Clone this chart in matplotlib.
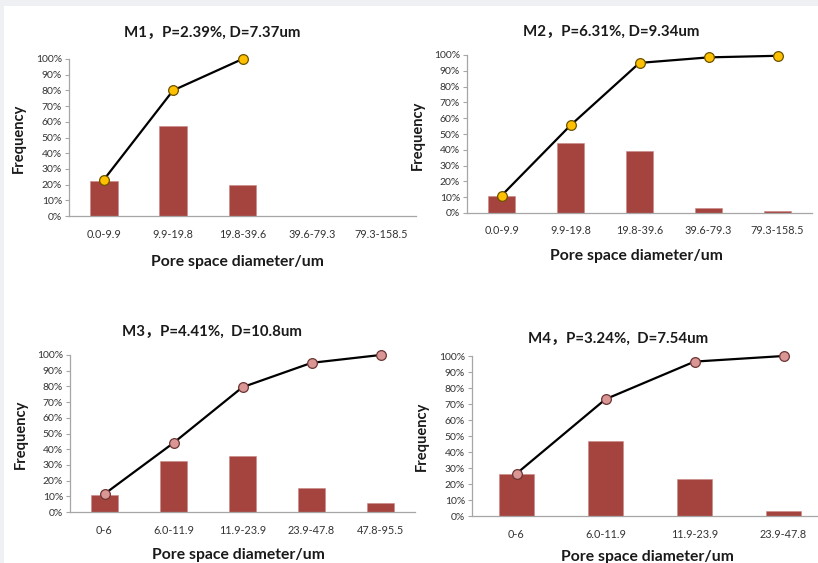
import numpy as np
import matplotlib
matplotlib.use("Agg")
from matplotlib import pyplot as plt
from matplotlib.patches import Rectangle
from matplotlib.ticker import PercentFormatter

plt.rcParams["font.family"] = ["Lato", "Noto Sans CJK SC", "DejaVu Sans"]

cats_m12 = ["0.0-9.9", "9.9-19.8", "19.8-39.6", "39.6-79.3", "79.3-158.5"]
cats_m3 = ["0-6", "6.0-11.9", "11.9-23.9", "23.9-47.8", "47.8-95.5"]
cats_m4 = ["0-6", "6.0-11.9", "11.9-23.9", "23.9-47.8"]

m1_bars = [22.5, 57.5, 19.5, 0, 0]
m1_cum = [23, 80, 100]
m2_bars = [10.5, 44.5, 39.5, 3, 1]
m2_cum = [11, 55.5, 95, 98.5, 99.5]
m3_bars = [11, 32.5, 35.5, 15.5, 5.5]
m3_cum = [11.5, 44, 79.5, 95, 100]
m4_bars = [26, 47, 23, 3]
m4_cum = [26.5, 73, 96.5, 100]

titles = ["M1\uff0cP=2.39%, D=7.37um", "M2\uff0cP=6.31%, D=9.34um",
          "M3\uff0cP=4.41%,  D=10.8um", "M4\uff0cP=3.24%,  D=7.54um"]

W, H = 818, 563
fig = plt.figure(figsize=(W / 100, H / 100), dpi=100, facecolor="#eef0f3")
fig.patches.append(Rectangle((4 / W, 0), 1, (H - 6) / H, transform=fig.transFigure,
                             facecolor="white", edgecolor="none", zorder=-5))

# pixel boxes: left, right, top, bottom ; title pos ; xlabel pos ; ylabel pos
panels = [
    (cats_m12, m1_bars, m1_cum, "#FFC000", "#6b5200", (69, 416, 59, 216), (212, 33), (237, 262), (19, 138)),
    (cats_m12, m2_bars, m2_cum, "#FFC000", "#6b5200", (467, 812, 55, 213), (611, 32), (636, 256), (418, 135)),
    (cats_m3, m3_bars, m3_cum, "#D99694", "#6b3533", (70, 415, 355, 512), (212, 332), (238, 555), (21, 434)),
    (cats_m4, m4_bars, m4_cum, "#D99694", "#6b3533", (472, 828, 356, 516), (618, 339), (647, 557), (422, 436)),
]

for i, (cats, bars, cum, mcol, medge, box, tpos, xpos, ypos) in enumerate(panels):
    l, r, t, b = box
    ax = fig.add_axes([l / W, (H - b) / H, (r - l) / W, (b - t) / H])
    ax.set_facecolor("none")
    x = np.arange(len(cats))
    ax.bar(x, bars, width=0.4, color="#A5443F", edgecolor="#c98784", linewidth=0.4, zorder=2)
    ax.plot(x[:len(cum)], cum, "-", color="black", linewidth=1.6, zorder=3,
            marker="o", markersize=7, markerfacecolor=mcol, markeredgecolor=medge,
            markeredgewidth=0.9, clip_on=False)
    ax.set_xlim(-0.5, len(cats) - 0.5)
    ax.set_ylim(0, 100)
    ax.set_yticks(np.arange(0, 101, 10))
    ax.yaxis.set_major_formatter(PercentFormatter(decimals=0))
    ax.set_xticks(x)
    ax.set_xticklabels(cats)
    for s in ["top", "right"]:
        ax.spines[s].set_visible(False)
    for s in ["left", "bottom"]:
        ax.spines[s].set_color("#a6a6a6")
        ax.spines[s].set_linewidth(0.9)
    ax.tick_params(axis="y", length=3, width=0.8, color="#a6a6a6", pad=2,
                   labelsize=7.5, labelcolor="#333333")
    ax.tick_params(axis="x", length=0, pad=9, labelsize=7.8, labelcolor="#333333")
    fig.text(tpos[0] / W, 1 - tpos[1] / H, titles[i], ha="center", va="center",
             fontsize=10.8, fontweight="bold", color="#1a1a1a")
    fig.text(xpos[0] / W, 1 - xpos[1] / H, "Pore space diameter/um", ha="center", va="center",
             fontsize=11.3, fontweight="bold", color="#1a1a1a")
    fig.text(ypos[0] / W, 1 - ypos[1] / H, "Frequency", ha="center", va="center",
             rotation=90, fontsize=10.5, fontweight="bold", color="#1a1a1a")

fig.savefig("out.png", dpi=100, facecolor=fig.get_facecolor())
